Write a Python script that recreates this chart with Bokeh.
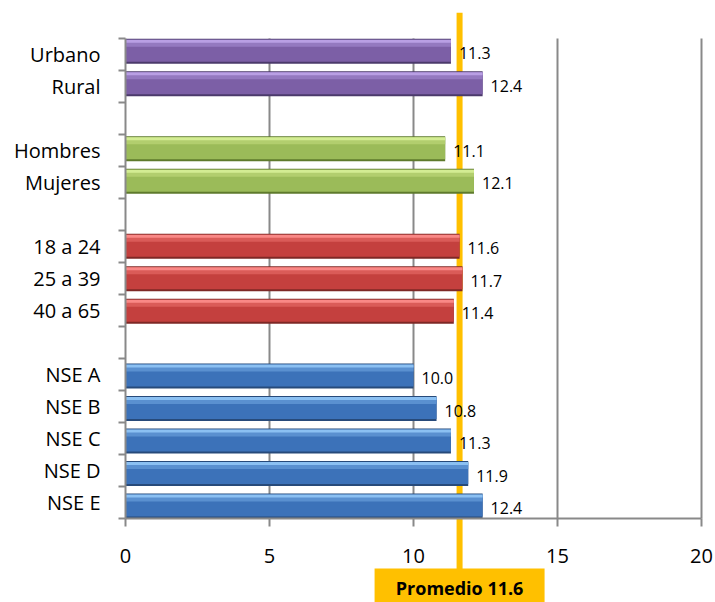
from bokeh.plotting import figure
from bokeh.models import Range1d, FixedTicker, Span
from bokeh.core.properties import value
from bokeh.embed import file_html
from bokeh.resources import INLINE

# ---------------- data ----------------
zona_labels = ["Urbano", "Rural"]
zona_values = [11.3, 12.4]
sexo_labels = ["Hombres", "Mujeres"]
sexo_values = [11.1, 12.1]
edad_labels = ["18 a 24", "25 a 39", "40 a 65"]
edad_values = [11.6, 11.7, 11.4]
nse_labels = ["NSE A", "NSE B", "NSE C", "NSE D", "NSE E"]
nse_values = [10.0, 10.8, 11.3, 11.9, 12.4]
promedio = 11.6
x_ticks = [0, 5, 10, 15, 20]

# (dark, main, mid, light) per group
palettes = [
    ("#4B3A6B", "#7C5FA6", "#9479C0", "#B99FE4"),
    ("#5E7A2C", "#9BBB59", "#B2CE6E", "#D3EC93"),
    ("#7E2826", "#C4403E", "#DA5B58", "#F98886"),
    ("#274A7A", "#3C72B9", "#5A90D0", "#8BC0F2"),
]
groups = [(zona_labels, zona_values), (sexo_labels, sexo_values),
          (edad_labels, edad_values), (nse_labels, nse_values)]

# ---------------- layout constants (pixels) ----------------
W, H = 715, 602
X0 = 125            # pixel of value 0
PX = 28.8           # pixels per unit on x
FT = 12             # frame top (top of the average line)
SLOT_TOP, SLOT = 38.0, 32.0
BAR_TOP, BAR_STEP, BAR_H = 38.3, 32.48, 25.0
FONT = "Open Sans"
GRAY = "#898989"

labels_by_slot = {}
bar_rows = []  # (slot, value, palette)
slot = 0
for gi, (labs, vals) in enumerate(groups):
    if gi > 0:
        labels_by_slot[slot] = ""
        slot += 1
    for lab, v in zip(labs, vals):
        labels_by_slot[slot] = lab
        bar_rows.append((slot, v, palettes[gi]))
        slot += 1
n_slots = slot

x_range = Range1d(-X0 / PX, (W - X0) / PX)
y_range = Range1d((H - SLOT_TOP) / SLOT - 0.5, (FT - SLOT_TOP) / SLOT - 0.5)
c0 = BAR_TOP + BAR_H / 2
bars_range = Range1d((H - c0) / BAR_STEP, (FT - c0) / BAR_STEP)

def y_at(px):
    return (px - SLOT_TOP) / SLOT - 0.5

p = figure(width=W, height=H, x_range=x_range, y_range=y_range,
           output_backend="svg", toolbar_location=None, title=None,
           min_border_left=0, min_border_right=0, min_border_top=FT,
           min_border_bottom=0)
p.extra_y_ranges = {"bars": bars_range}
p.outline_line_color = None
p.xgrid.visible = False
p.ygrid.visible = False
p.background_fill_color = "white"
p.border_fill_color = "white"

# average line (behind bars)
p.add_layout(Span(location=promedio, dimension="height", line_color="#FFC000",
                  line_width=6, level="underlay"))

# grid lines
gx = [t for t in x_ticks if t > 0]
p.segment(x0=gx, x1=gx, y0=[-0.5] * len(gx), y1=[n_slots - 0.5] * len(gx),
          line_color=GRAY, line_width=2)

def layer(a, b):
    off = ((a + b) / 2 - BAR_H / 2) / BAR_STEP
    return off, (b - a) / BAR_STEP

for (s, v, pal) in bar_rows:
    dark, main, mid, light = pal
    for (a, b, col) in [(0, 25, dark), (1, 23, main), (2, 8, mid), (1, 4, light)]:
        off, h = layer(a, b)
        p.hbar(y=[s + off], height=h, left=0, right=[v], fill_color=col,
               line_color=None, y_range_name="bars")

# value labels
bx = [r[1] for r in bar_rows]
by = [r[0] for r in bar_rows]
p.text(x=bx, y=by, text=[f"{v:.1f}" for v in bx], x_offset=8, y_offset=2,
       text_align="left", text_baseline="middle", text_font=value(FONT),
       text_font_size="16px", text_color="black", y_range_name="bars")

# average box
p.rect(x=[promedio], y=[y_at(589)], width=170, height=42, width_units="screen",
       height_units="screen", fill_color="#FFC000", line_color=None)
p.text(x=[promedio], y=[y_at(587)], text=[f"Promedio {promedio}"], text_align="center",
       text_baseline="middle", text_font=value(FONT), text_font_size="18px",
       text_font_style="bold", text_color="black")

# y axis at value 0
ya = p.yaxis[0]
ya.fixed_location = 0
ya.ticker = FixedTicker(ticks=list(range(n_slots)),
                        minor_ticks=[i - 0.5 for i in range(n_slots + 1)])
ya.major_label_overrides = {i: labels_by_slot[i] for i in range(n_slots)}
ya.bounds = (-0.5, n_slots - 0.5)
ya.axis_line_color = GRAY
ya.axis_line_width = 2
ya.major_tick_line_color = None
ya.major_tick_out = 0
ya.major_tick_in = 0
ya.minor_tick_line_color = GRAY
ya.minor_tick_line_width = 2
ya.minor_tick_out = 7
ya.minor_tick_in = 0
ya.major_label_standoff = 18
ya.major_label_text_font = FONT
ya.major_label_text_font_size = "20px"
ya.major_label_text_color = "black"

# x axis at bottom of category area
xa = p.xaxis[0]
xa.fixed_location = n_slots - 0.5
xa.ticker = FixedTicker(ticks=x_ticks, minor_ticks=[])
xa.bounds = (x_ticks[0], x_ticks[-1])
xa.axis_line_color = GRAY
xa.axis_line_width = 2
xa.major_tick_line_color = GRAY
xa.major_tick_line_width = 2
xa.major_tick_out = 8
xa.major_tick_in = 0
xa.major_label_standoff = 22
xa.major_label_text_font = FONT
xa.major_label_text_font_size = "20px"
xa.major_label_text_color = "black"

open("out.html", "w").write(file_html(p, INLINE))
